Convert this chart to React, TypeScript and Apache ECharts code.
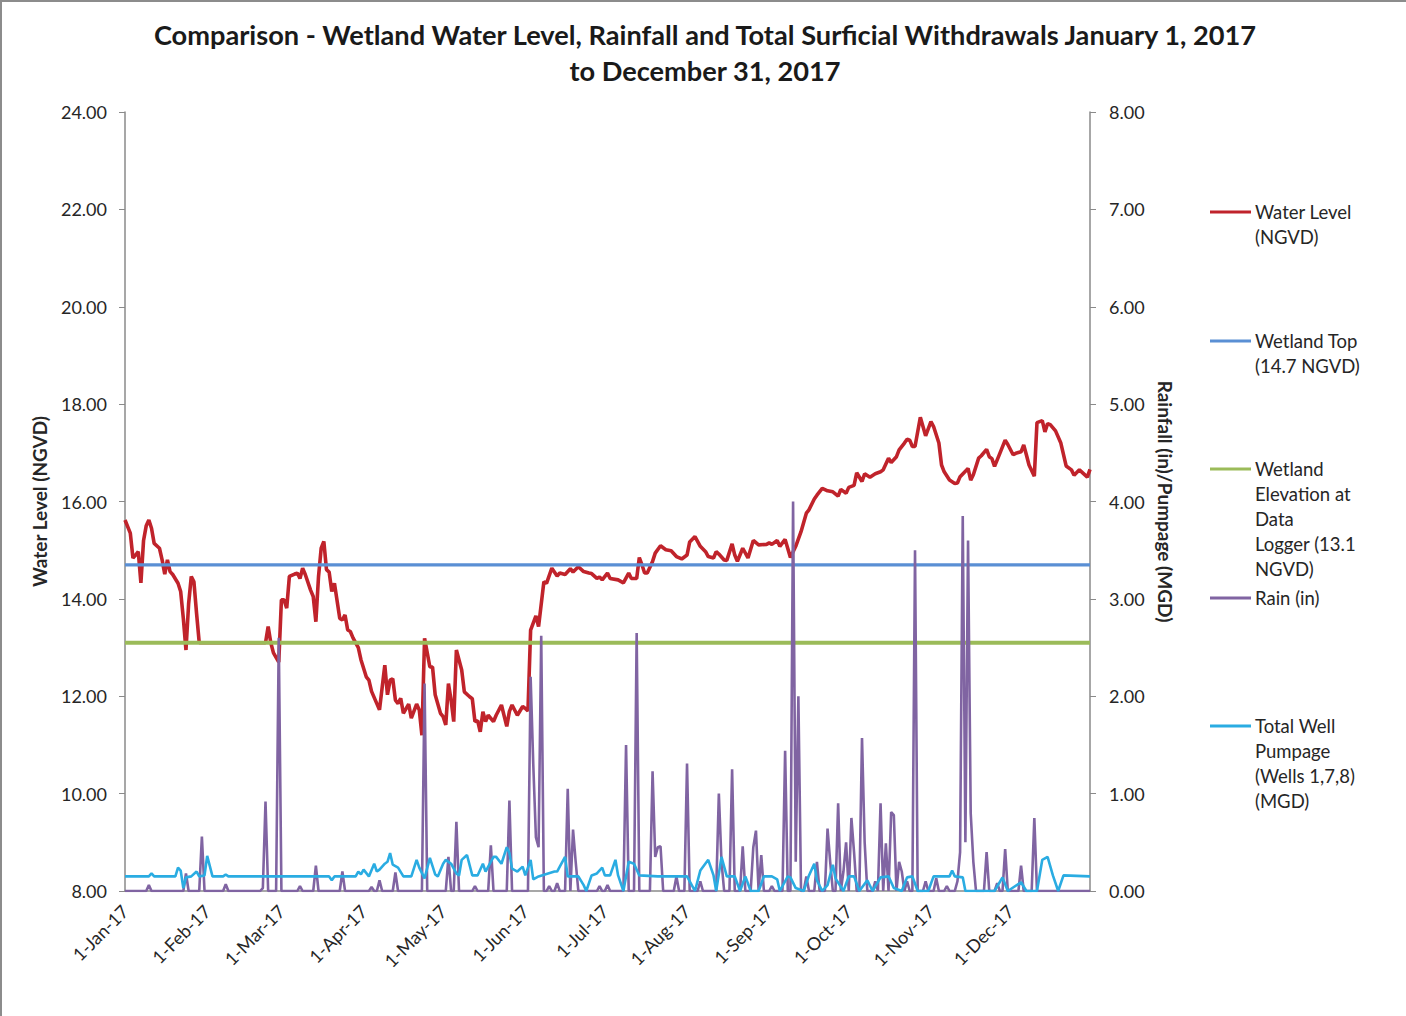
import React, { useEffect, useRef } from "react";
import * as echarts from "echarts";

const TITLE = "Comparison - Wetland Water Level, Rainfall and Total Surficial Withdrawals January 1, 2017\nto December 31, 2017";

const MONTH_STARTS = [0, 31, 59, 90, 120, 151, 181, 212, 243, 273, 304, 334];
const MONTH_LABELS = ["1-Jan-17", "1-Feb-17", "1-Mar-17", "1-Apr-17", "1-May-17", "1-Jun-17", "1-Jul-17", "1-Aug-17", "1-Sep-17", "1-Oct-17", "1-Nov-17", "1-Dec-17"];

const WETLAND_TOP = 14.7;
const LOGGER_ELEV = 13.1;

// Water level (NGVD) by day of year index
const WL_DAYS = [0, 2, 3, 4, 5, 6, 7, 8, 9, 10, 11, 13, 14, 15, 16, 17, 18, 20, 21, 22, 23, 24, 25, 26, 27, 28, 52, 53, 54, 55, 56, 58, 59, 60, 61, 62, 64, 65, 66, 67, 68, 70, 71, 72, 73, 74, 75, 76, 77, 78, 79, 81, 82, 83, 84, 85, 86, 88, 89, 91, 92, 93, 96, 98, 99, 100, 101, 102, 103, 104, 105, 107, 108, 110, 111, 112, 113, 115, 116, 117, 119, 120, 121, 122, 123, 124, 125, 127, 128, 130, 131, 132, 133, 134, 135, 136, 137, 139, 140, 142, 144, 145, 146, 148, 150, 151, 152, 153, 155, 156, 158, 159, 161, 163, 164, 166, 168, 169, 171, 173, 175, 176, 178, 179, 180, 182, 183, 186, 188, 190, 191, 193, 194, 195, 196, 197, 199, 200, 202, 204, 206, 208, 210, 212, 213, 215, 217, 219, 220, 222, 223, 224, 226, 227, 229, 230, 231, 233, 235, 237, 239, 242, 243, 244, 246, 247, 249, 251, 253, 255, 257, 258, 260, 261, 263, 265, 267, 269, 270, 272, 273, 275, 276, 278, 279, 281, 283, 285, 286, 288, 289, 291, 292, 294, 295, 296, 297, 298, 300, 301, 302, 304, 305, 307, 308, 309, 311, 313, 314, 315, 318, 319, 320, 322, 323, 325, 326, 327, 328, 330, 332, 333, 335, 336, 338, 339, 340, 341, 343, 344, 346, 347, 348, 349, 351, 353, 355, 357, 358, 360, 363, 364];
const WL_VALUES = [15.62, 15.35, 14.84, 14.9, 14.97, 14.33, 15.2, 15.5, 15.62, 15.45, 15.14, 15.04, 14.8, 14.51, 14.8, 14.56, 14.5, 14.32, 14.15, 13.6, 12.95, 13.9, 14.46, 14.35, 13.7, 13.1, 13.1, 13.1, 13.43, 13.1, 12.89, 12.7, 13.98, 13.98, 13.81, 14.46, 14.51, 14.53, 14.42, 14.63, 14.5, 14.18, 14.05, 13.53, 14.46, 15.04, 15.18, 14.6, 14.55, 14.15, 14.32, 13.6, 13.57, 13.67, 13.36, 13.33, 13.2, 13.0, 12.75, 12.4, 12.33, 12.1, 11.72, 12.64, 12.03, 12.33, 12.36, 11.92, 11.85, 11.96, 11.65, 11.84, 11.55, 11.84, 11.72, 11.2, 13.19, 12.6, 12.6, 12.03, 11.65, 11.58, 11.41, 12.26, 11.92, 11.48, 12.95, 12.54, 12.09, 11.99, 11.95, 11.48, 11.5, 11.27, 11.68, 11.48, 11.61, 11.48, 11.61, 11.82, 11.38, 11.69, 11.82, 11.61, 11.79, 11.75, 11.7, 13.36, 13.65, 13.43, 14.35, 14.32, 14.63, 14.47, 14.53, 14.5, 14.62, 14.55, 14.66, 14.56, 14.53, 14.52, 14.42, 14.45, 14.39, 14.53, 14.42, 14.39, 14.33, 14.53, 14.42, 14.42, 14.85, 14.7, 14.53, 14.53, 14.77, 14.94, 15.09, 15.01, 14.99, 14.87, 14.82, 14.9, 15.17, 15.28, 15.08, 14.97, 14.87, 14.84, 14.97, 14.92, 14.8, 14.79, 15.13, 14.9, 14.77, 15.04, 14.84, 15.2, 15.11, 15.12, 15.15, 15.12, 15.2, 15.08, 15.22, 14.85, 15.08, 15.38, 15.76, 15.83, 16.05, 16.13, 16.27, 16.22, 16.2, 16.11, 16.25, 16.17, 16.29, 16.33, 16.59, 16.41, 16.57, 16.5, 16.57, 16.61, 16.65, 16.89, 16.8, 16.92, 17.06, 17.2, 17.28, 17.26, 17.13, 17.13, 17.73, 17.54, 17.35, 17.64, 17.54, 17.2, 16.75, 16.61, 16.44, 16.37, 16.38, 16.51, 16.68, 16.44, 16.55, 16.89, 16.94, 17.07, 16.92, 16.88, 16.72, 16.99, 17.26, 17.17, 16.96, 16.99, 17.02, 17.16, 16.96, 16.75, 16.52, 17.62, 17.66, 17.43, 17.6, 17.58, 17.45, 17.2, 16.73, 16.65, 16.54, 16.65, 16.5, 16.66];

// Daily rain (in): days with rain; all other days are 0
const RAIN_DAYS = [9, 23, 29, 38, 52, 53, 58, 66, 72, 82, 93, 96, 102, 113, 122, 125, 132, 138, 145, 153, 154, 155, 156, 157, 160, 163, 167, 169, 170, 179, 182, 189, 193, 199, 200, 201, 202, 208, 212, 217, 224, 225, 229, 233, 237, 238, 240, 244, 249, 252, 253, 254, 257, 261, 265, 266, 269, 271, 272, 274, 275, 278, 279, 283, 285, 287, 289, 290, 292, 293, 295, 298, 302, 306, 310, 314, 315, 316, 317, 318, 319, 320, 325, 329, 332, 338, 343];
const RAIN_IN = [0.06, 0.18, 0.56, 0.07, 0.03, 0.92, 2.6, 0.05, 0.26, 0.2, 0.04, 0.11, 0.19, 2.13, 0.35, 0.71, 0.05, 0.47, 0.93, 2.2, 1.3, 0.55, 0.45, 2.62, 0.05, 0.08, 1.05, 0.63, 0.3, 0.05, 0.06, 1.5, 2.65, 1.23, 0.35, 0.45, 0.46, 0.15, 1.31, 0.1, 1.0, 0.3, 1.25, 0.46, 0.45, 0.62, 0.37, 0.05, 1.44, 4.0, 0.3, 2.0, 0.15, 0.3, 0.64, 0.3, 0.9, 0.2, 0.5, 0.75, 0.4, 1.57, 0.5, 0.1, 0.9, 0.49, 0.81, 0.78, 0.3, 0.2, 0.1, 3.5, 0.1, 0.13, 0.05, 0.1, 0.4, 3.85, 0.5, 3.6, 0.8, 0.3, 0.4, 0.08, 0.43, 0.26, 0.75];

// Total well pumpage (MGD)
const PUMP_DAYS = [0, 9, 10, 11, 19, 20, 21, 22, 23, 25, 27, 28, 30, 31, 33, 37, 38, 39, 77, 78, 79, 87, 88, 89, 90, 92, 94, 95, 96, 98, 99, 100, 101, 103, 105, 108, 110, 111, 113, 115, 117, 118, 120, 121, 123, 125, 126, 127, 129, 131, 133, 135, 136, 139, 140, 142, 144, 145, 146, 148, 150, 151, 153, 154, 156, 162, 163, 164, 166, 167, 171, 173, 174, 176, 178, 180, 181, 183, 185, 186, 188, 190, 192, 194, 201, 212, 215, 217, 220, 222, 223, 225, 227, 230, 232, 234, 236, 239, 241, 244, 246, 247, 250, 251, 253, 256, 258, 260, 261, 263, 265, 267, 268, 271, 273, 275, 277, 280, 282, 285, 288, 290, 293, 295, 297, 299, 303, 305, 307, 311, 312, 313, 316, 317, 328, 331, 333, 338, 340, 344, 346, 348, 350, 352, 354, 364];
const PUMP_MGD = [0.15, 0.15, 0.18, 0.15, 0.15, 0.24, 0.21, 0.03, 0.14, 0.15, 0.2, 0.15, 0.16, 0.36, 0.15, 0.15, 0.17, 0.15, 0.15, 0.11, 0.15, 0.15, 0.2, 0.17, 0.22, 0.15, 0.28, 0.2, 0.22, 0.28, 0.3, 0.39, 0.27, 0.24, 0.15, 0.15, 0.32, 0.24, 0.13, 0.34, 0.17, 0.15, 0.28, 0.32, 0.28, 0.18, 0.16, 0.32, 0.37, 0.16, 0.16, 0.28, 0.2, 0.35, 0.35, 0.28, 0.45, 0.39, 0.23, 0.2, 0.25, 0.16, 0.32, 0.12, 0.15, 0.2, 0.2, 0.25, 0.35, 0.15, 0.15, 0.06, 0.0, 0.16, 0.18, 0.24, 0.16, 0.16, 0.32, 0.16, 0.0, 0.3, 0.28, 0.16, 0.15, 0.15, 0.0, 0.21, 0.32, 0.16, 0.0, 0.35, 0.15, 0.15, 0.0, 0.15, 0.0, 0.0, 0.15, 0.15, 0.12, 0.0, 0.15, 0.14, 0.03, 0.0, 0.16, 0.28, 0.11, 0.0, 0.06, 0.27, 0.13, 0.0, 0.15, 0.15, 0.0, 0.11, 0.0, 0.14, 0.15, 0.03, 0.0, 0.14, 0.15, 0.0, 0.0, 0.15, 0.15, 0.15, 0.21, 0.15, 0.14, 0.0, 0.0, 0.14, 0.0, 0.09, 0.0, 0.0, 0.32, 0.35, 0.16, 0.0, 0.16, 0.15];

const LEGEND_ITEMS = [
  { label: "Water Level\n(NGVD)", color: "#C0232B", y: 212 },
  { label: "Wetland Top\n(14.7 NGVD)", color: "#5A8FD4", y: 341 },
  { label: "Wetland\nElevation at\nData\nLogger (13.1\nNGVD)", color: "#9BBB59", y: 469 },
  { label: "Rain (in)", color: "#8064A2", y: 598 },
  { label: "Total Well\nPumpage\n(Wells 1,7,8)\n(MGD)", color: "#2AACE2", y: 726 },
];

const FONT = "Lato, 'Open Sans', sans-serif";
const TEXT = "#262626";
const AXIS = "#8A8A8A";

export default function App() {
  const ref = useRef<HTMLDivElement>(null);

  useEffect(() => {
    if (!ref.current) return;
    const chart = echarts.init(ref.current, null, { renderer: "svg" });

    const wl = WL_DAYS.map((d, i) => [d, WL_VALUES[i]]);
    const rainDaily: number[][] = [];
    for (let d = 0; d < 365; d++) rainDaily.push([d, 0]);
    RAIN_DAYS.forEach((d, i) => { rainDaily[d] = [d, RAIN_IN[i]]; });
    const pump = PUMP_DAYS.map((d, i) => [d, PUMP_MGD[i]]);

    const legendGraphics: any[] = [];
    LEGEND_ITEMS.forEach((it) => {
      legendGraphics.push({
        type: "line",
        shape: { x1: 1210, y1: it.y, x2: 1251, y2: it.y },
        style: { stroke: it.color, lineWidth: 3 },
      });
      legendGraphics.push({
        type: "text",
        x: 1255,
        y: it.y - 12.5,
        style: { text: it.label, font: `18.5px ${FONT}`, fill: TEXT, lineHeight: 25, verticalAlign: "top", align: "left" },
      });
    });

    chart.setOption({
      animation: false,
      backgroundColor: "#ffffff",
      textStyle: { fontFamily: FONT },
      grid: { left: 125, right: 316, top: 112, bottom: 125, containLabel: false },
      xAxis: {
        type: "value",
        min: 0,
        max: 364,
        axisLine: { show: true, onZero: false, lineStyle: { color: AXIS, width: 1.5 } },
        axisTick: { show: false },
        splitLine: { show: false },
        axisLabel: {
          customValues: MONTH_STARTS,
          formatter: (v: number) => MONTH_LABELS[MONTH_STARTS.indexOf(v)] ?? "",
          rotate: 45,
          margin: 17,
          fontSize: 18,
          color: TEXT,
          fontFamily: FONT,
        },
      },
      yAxis: [
        {
          type: "value",
          min: 8,
          max: 24,
          interval: 2,
          position: "left",
          name: "Water Level (NGVD)",
          nameLocation: "middle",
          nameGap: 76,
          nameTextStyle: { fontSize: 19, fontWeight: "bold", color: TEXT, fontFamily: FONT },
          axisLine: { show: true, lineStyle: { color: AXIS, width: 1.5 } },
          axisTick: { show: true, length: 6, lineStyle: { color: AXIS } },
          splitLine: { show: false },
          axisLabel: { formatter: (v: number) => v.toFixed(2), fontSize: 18, color: TEXT, margin: 18, fontFamily: FONT },
        },
        {
          type: "value",
          min: 0,
          max: 8,
          interval: 1,
          position: "right",
          name: "Rainfall (in)/Pumpage (MGD)",
          nameLocation: "middle",
          nameGap: 66,
          nameRotate: -90,
          nameTextStyle: { fontSize: 19, fontWeight: "bold", color: TEXT, fontFamily: FONT },
          axisLine: { show: true, lineStyle: { color: AXIS, width: 1.5 } },
          axisTick: { show: true, length: 6, lineStyle: { color: AXIS } },
          splitLine: { show: false },
          axisLabel: { formatter: (v: number) => v.toFixed(2), fontSize: 18, color: TEXT, margin: 19, fontFamily: FONT },
        },
      ],
      series: [
        {
          name: "Water Level (NGVD)", type: "line", yAxisIndex: 0, data: wl, showSymbol: false,
          lineStyle: { color: LEGEND_ITEMS[0].color, width: 3.6 }, itemStyle: { color: LEGEND_ITEMS[0].color }, z: 2,
        },
        {
          name: "Wetland Top (14.7 NGVD)", type: "line", yAxisIndex: 0, data: [[0, WETLAND_TOP], [364, WETLAND_TOP]], showSymbol: false,
          lineStyle: { color: LEGEND_ITEMS[1].color, width: 3.2 }, itemStyle: { color: LEGEND_ITEMS[1].color }, z: 3,
        },
        {
          name: "Wetland Elevation at Data Logger (13.1 NGVD)", type: "line", yAxisIndex: 0, data: [[0, LOGGER_ELEV], [364, LOGGER_ELEV]], showSymbol: false,
          lineStyle: { color: LEGEND_ITEMS[2].color, width: 4 }, itemStyle: { color: LEGEND_ITEMS[2].color }, z: 4,
        },
        {
          name: "Rain (in)", type: "line", yAxisIndex: 1, data: rainDaily, showSymbol: false,
          lineStyle: { color: LEGEND_ITEMS[3].color, width: 2.6 }, itemStyle: { color: LEGEND_ITEMS[3].color }, z: 5,
        },
        {
          name: "Total Well Pumpage (Wells 1,7,8) (MGD)", type: "line", yAxisIndex: 1, data: pump, showSymbol: false,
          lineStyle: { color: LEGEND_ITEMS[4].color, width: 2.6 }, itemStyle: { color: LEGEND_ITEMS[4].color }, z: 6,
        },
      ],
      graphic: [
        { type: "line", shape: { x1: 0, y1: 1, x2: 1406, y2: 1 }, style: { stroke: "#8C8C8C", lineWidth: 2 } },
        { type: "line", shape: { x1: 1, y1: 0, x2: 1, y2: 1016 }, style: { stroke: "#8C8C8C", lineWidth: 2 } },
        {
          type: "text",
          x: 705,
          y: 52,
          style: {
            text: TITLE,
            font: `bold 27.2px ${FONT}`,
            fill: "#1a1a1a",
            lineHeight: 36,
            align: "center",
            verticalAlign: "middle",
          },
        },
        ...legendGraphics,
      ],
    });

    return () => chart.dispose();
  }, []);

  return (
    <div
      ref={ref}
      style={{ position: "fixed", left: 0, top: 0, width: 1406, height: 1016, background: "#fff" }}
    />
  );
}
